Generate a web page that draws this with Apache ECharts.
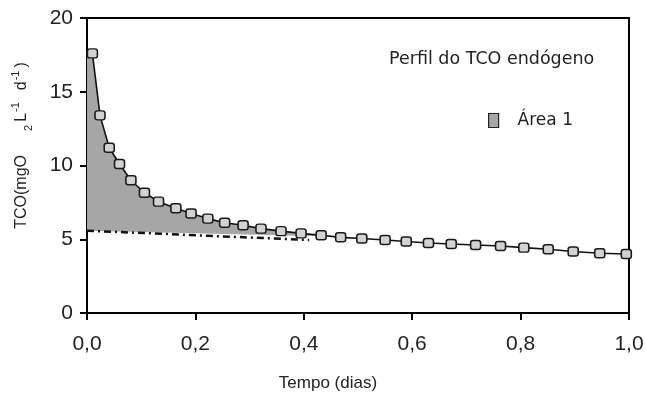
<!DOCTYPE html>
<html>
<head>
<meta charset="utf-8">
<script src="https://cdn.jsdelivr.net/npm/echarts@6/dist/echarts.min.js"></script>
<style>html,body{margin:0;padding:0;background:#fff}#c{width:645px;height:396px}</style>
</head>
<body>
<div id="c"></div>
<script>
// ---- data ----
const timeDays = [0.010, 0.024, 0.041, 0.060, 0.081, 0.106, 0.132, 0.164, 0.192, 0.223, 0.254, 0.288, 0.321, 0.358, 0.395, 0.432, 0.468, 0.507, 0.550, 0.589, 0.630, 0.672, 0.717, 0.763, 0.806, 0.851, 0.897, 0.946, 0.995];
const tcoValues = [17.6, 13.4, 11.2, 10.1, 9.0, 8.15, 7.55, 7.1, 6.75, 6.4, 6.12, 5.95, 5.72, 5.55, 5.4, 5.27, 5.13, 5.05, 4.95, 4.85, 4.75, 4.68, 4.61, 4.54, 4.43, 4.32, 4.17, 4.05, 4.0];
// dash-dot endogenous baseline
const baselineX = [0.0, 0.41];
const baselineY = [5.58, 4.95];
// shaded "Área 1": left edge, top = curve points up to areaEndIndex, lower edge
const areaLeftX = [0.0, 0.0];
const areaLeftY = [5.58, 17.7];
const areaEndIndex = 15;
const areaLowerX = [0.432, 0.0];
const areaLowerY = [5.2, 5.58];
const xTicks = [0, 0.2, 0.4, 0.6, 0.8, 1.0];
const yTicks = [0, 5, 10, 15, 20];

const polyX = [areaLeftX[0], areaLeftX[1]].concat(timeDays.slice(0, areaEndIndex + 1)).concat(areaLowerX);
const polyY = [areaLeftY[0], areaLeftY[1]].concat(tcoValues.slice(0, areaEndIndex + 1)).concat(areaLowerY);

const chart = echarts.init(document.getElementById('c'), null, {renderer: 'canvas'});
const option = {
  backgroundColor: '#fff',
  animation: false,
  title: {
    text: 'Perfil do TCO endógeno',
    left: 384, top: 45,
    textStyle: {fontFamily: 'DejaVu Sans', fontSize: 17.5, fontWeight: 'normal', color: '#222'}
  },
  legend: {
    left: 483, top: 107,
    itemWidth: 10, itemHeight: 14,
    data: [{name: 'Área 1', icon: 'rect', itemStyle: {color: '#a6a6a6', borderColor: '#222', borderWidth: 1.2}}],
    textStyle: {fontFamily: 'DejaVu Sans', fontSize: 17, color: '#222', padding: [18, 0, 0, 14]}
  },
  grid: {left: 87, right: 16, top: 18, bottom: 83, outerBoundsMode: 'none', containLabel: false,
    show: true, borderColor: '#000', borderWidth: 2, backgroundColor: 'transparent'},
  xAxis: {
    type: 'value', min: xTicks[0], max: xTicks[xTicks.length - 1], interval: 0.2,
    name: 'Tempo (dias)', nameLocation: 'middle', nameGap: 62,
    nameTextStyle: {fontFamily: 'Liberation Sans', fontSize: 17, color: '#222', padding: [0, 60, 0, 0]},
    axisLine: {show: true, lineStyle: {color: '#000', width: 2}},
    axisTick: {show: true, inside: false, length: 7, lineStyle: {color: '#000', width: 2}},
    splitLine: {show: false},
    axisLabel: {fontFamily: 'Liberation Sans', fontSize: 21, color: '#222', margin: 21,
      formatter: v => v.toFixed(1).replace('.', ',')}
  },
  yAxis: {
    type: 'value', min: yTicks[0], max: yTicks[yTicks.length - 1], interval: 5,
    name: '{a|TCO(mgO}{gap| }{sub|2}{a|L}{sup|-1}{a|  d}{sup|-1}{a|)}',
    nameLocation: 'middle', nameGap: 53,
    nameTextStyle: {
      fontFamily: 'Liberation Sans', fontSize: 16, color: '#222', padding: [0, 0, 0, 40],
      rich: {
        a: {fontFamily: 'Liberation Sans', fontSize: 16, color: '#222', lineHeight: 24, verticalAlign: 'middle'},
        gap: {width: 24, lineHeight: 24},
        sub: {fontFamily: 'Liberation Sans', fontSize: 11, color: '#222', lineHeight: 24, verticalAlign: 'bottom', padding: [0, 3, 0, 0]},
        sup: {fontFamily: 'Liberation Sans', fontSize: 11, color: '#222', lineHeight: 24, verticalAlign: 'top', padding: [0, 3, 0, 1]}
      }
    },
    axisLine: {show: true, lineStyle: {color: '#000', width: 2}},
    axisTick: {show: true, inside: false, length: 7, lineStyle: {color: '#000', width: 2}},
    splitLine: {show: false},
    axisLabel: {fontFamily: 'Liberation Sans', fontSize: 21, color: '#222', margin: 14}
  },
  series: [
    {
      name: 'Área 1',
      type: 'custom',
      z: 1,
      itemStyle: {color: '#a6a6a6'},
      data: [[polyX[0], polyY[0]]],
      encode: {x: 0, y: 1},
      renderItem: function (params, api) {
        if (params.dataIndex !== 0) return;
        const pts = polyX.map((x, i) => api.coord([x, polyY[i]]));
        return {type: 'polygon', shape: {points: pts}, style: {fill: '#a6a6a6', stroke: null}};
      }
    },
    {
      name: 'baseline',
      type: 'line',
      z: 3,
      showSymbol: false,
      data: baselineX.map((x, i) => [x, baselineY[i]]),
      lineStyle: {color: '#111', width: 2.5, type: [7, 4, 2, 4]}
    },
    {
      name: 'TCO',
      type: 'line',
      z: 4,
      data: timeDays.map((x, i) => [x, tcoValues[i]]),
      symbol: 'roundRect',
      symbolSize: [10, 9],
      lineStyle: {color: '#111', width: 1.6},
      itemStyle: {color: '#d2d2d2', borderColor: '#1a1a1a', borderWidth: 1.5}
    }
  ]
};
chart.setOption(option);
</script>
</body>
</html>
